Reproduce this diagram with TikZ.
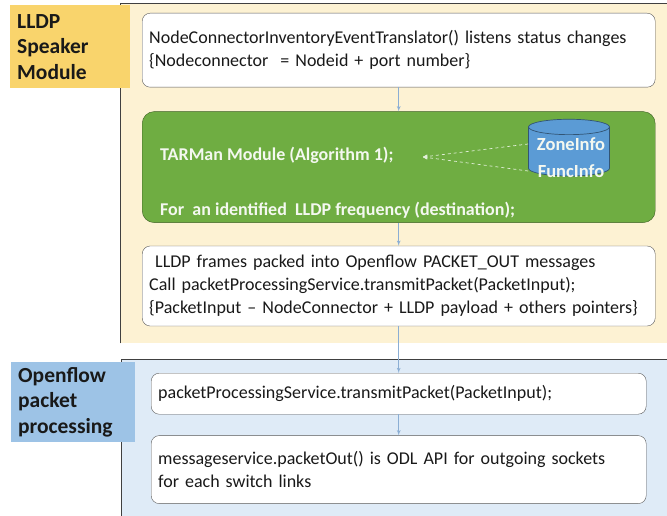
\documentclass[tikz,border=0pt]{standalone}
\usepackage{fontspec}
\setmainfont{Carlito}
\usepackage{xcolor}
\usepackage{tikz}
\usetikzlibrary{shapes, arrows, positioning, shapes.geometric}

\definecolor{panelYellow}{HTML}{FDF2D3}
\definecolor{tagYellow}{HTML}{F9D46C}
\definecolor{panelBlue}{HTML}{DFEBF7}
\definecolor{tagBlue}{HTML}{9DC3E6}
\definecolor{tarGreen}{HTML}{6FAD42}
\definecolor{dbBlue}{HTML}{5B9BD5}
\definecolor{flowLine}{HTML}{8BAED4}

\begin{document}
\begin{tikzpicture}[ % LLDP speaker / openflow flow
    x=1pt, y=-1pt,
    panel/.style={rectangle, anchor=north west, inner sep=0pt},
    frame/.style={draw=black!75, line width=0.8pt},
    tag/.style={rectangle, anchor=north west, inner xsep=7pt, align=left, font=\fontsize{21.5}{25.5}\selectfont\bfseries, text=black!90},
    block/.style={rectangle, draw=black!65, fill=white, rounded corners=8pt, anchor=north west, inner xsep=7pt, align=left, font=\fontsize{18}{23}\selectfont, text=black!90},
    tarbox/.style={rectangle, draw=black!45!tarGreen, fill=tarGreen, rounded corners=12pt, anchor=north west},
    greentext/.style={anchor=west, inner sep=0pt, font=\fontsize{18}{22}\selectfont\bfseries, text=white!92!tarGreen},
    db/.style={cylinder, shape border rotate=90, aspect=0.19, inner xsep=40.5pt, inner ysep=20.5pt, draw=black!45!dbBlue, line width=0.7pt, fill=dbBlue},
    line/.style={draw, line width=0.8pt, color=flowLine, -latex'},
    feed/.style={draw, dashed, line width=0.7pt, color=white!80!tarGreen, -stealth'}
    ]

    \useasboundingbox [fill=white] (0,0) rectangle (667,516);

    % Panels
    \node [panel, fill=panelYellow, minimum width=547pt, minimum height=340pt] (lldpPanel) at (120,3) {};
    \node [panel, fill=panelBlue, minimum width=546pt, minimum height=157pt] (ofPanel) at (121,359) {};
    \draw [frame] (lldpPanel.south west) -- (lldpPanel.north west) -- (lldpPanel.north east);
    \draw [frame] (ofPanel.south west) -- (ofPanel.north west) -- (ofPanel.north east);

    % Panel tags
    \node [tag, fill=tagYellow, text width=106pt, minimum height=83pt] (lldpTag) at (10,5) {LLDP\\Speaker\\Module};
    \node [tag, fill=tagBlue, text width=110pt, minimum height=80pt] (ofTag) at (11,362) {Openflow\\packet\\processing};

    % LLDP speaker module
    \node [block, text width=499pt, minimum height=74pt] (nodeInv) at (142,13) {NodeConnectorInventoryEventTranslator() listens status changes\\\{Nodeconnector~ = Nodeid + port number\}};
    \node [tarbox, below=24pt of nodeInv, minimum width=513pt, minimum height=111pt] (tarman) {};
    \node [greentext] (tarTxt) at (160,155) {TARMan Module (Algorithm 1);};
    \node [greentext] (freqTxt) at (160,210) {For~ an identified~ LLDP frequency (destination);};
    \node [db] (dataStore) at (569,155.5) {};
    \node [greentext, anchor=center, font=\fontsize{18.5}{22}\selectfont\bfseries] (zoneTxt) at (571,144) {ZoneInfo};
    \node [greentext, anchor=center, font=\fontsize{18.5}{22}\selectfont\bfseries] (funcTxt) at (571,171) {FuncInfo};
    \coordinate (tarIn) at (423,157);
    \node [block, below=23pt of tarman, text width=499pt, minimum height=80pt] (packOut) {~LLDP frames packed into Openflow PACKET\_OUT messages\\Call packetProcessingService.transmitPacket(PacketInput);\\\{PacketInput -- NodeConnector + LLDP payload + others pointers\}};

    % Openflow packet processing
    \node [block, text width=481pt, minimum height=41pt] (transmit) at (151,373) {packetProcessingService.transmitPacket(PacketInput);};
    \node [block, below=21pt of transmit, text width=481pt, minimum height=68pt] (msgOut) {messageservice.packetOut() is ODL API for outgoing sockets\\for each switch links};

    % Draw edges
    \path [line] (nodeInv) -- (tarman);
    \path [line] (tarman) -- (packOut);
    \path [line] (packOut) -- (transmit);
    \path [line] (transmit) -- (msgOut);
    \path [feed] (dataStore.west |- zoneTxt) -- (tarIn);
    \path [feed] (dataStore.west |- funcTxt) -- (tarIn);

\end{tikzpicture}
\end{document}
